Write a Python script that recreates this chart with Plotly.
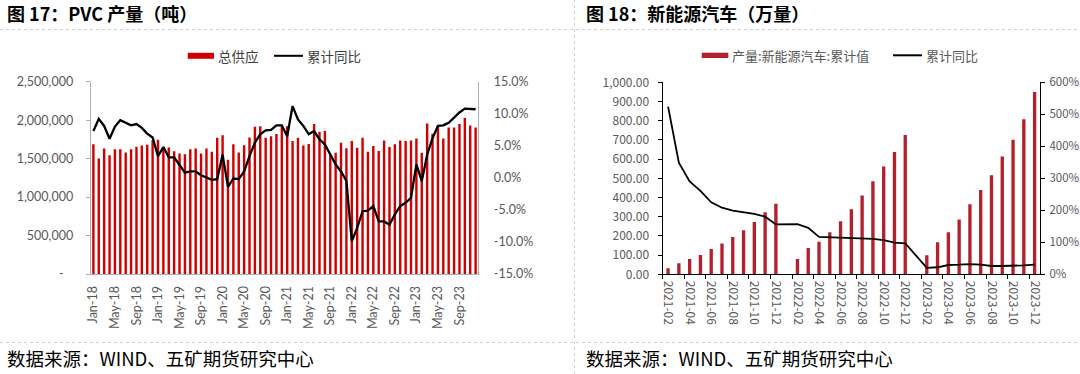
import plotly.graph_objects as go

# ---------------- Data: left chart (PVC production, tonnes) ----------------
pvc_months = [f"{m}-{y}" for y in range(18, 24) for m in
              ["Jan", "Feb", "Mar", "Apr", "May", "Jun", "Jul", "Aug", "Sep", "Oct", "Nov", "Dec"]]
pvc_supply_k = [
    1688, 1502, 1632, 1545, 1623, 1623, 1580, 1623, 1653, 1671, 1680, 1740,
    1745, 1645, 1645, 1597, 1567, 1558, 1623, 1632, 1567, 1632, 1589, 1770,
    1805, 1485, 1688, 1580, 1675, 1775, 1913, 1922, 1770, 1790, 1820, 1910,
    1920, 1730, 1770, 1670, 1690, 1950, 1850, 1860, 1547, 1577, 1706, 1634,
    1728, 1642, 1770, 1590, 1663, 1600, 1737, 1650, 1686, 1737, 1728, 1737,
    1763, 1577, 1958, 1823, 1927, 1763, 1906, 1906, 1949, 2027, 1930, 1905,
]
pvc_yoy_pct = [
    7.3, 9.2, 8.1, 6.1, 8.0, 9.0, 8.6, 8.2, 8.4, 7.8, 6.9, 6.3,
    3.4, 4.8, 3.2, 3.2, 2.0, 0.8, 1.0, 1.0, 0.4, 0.1, -0.3, -0.2,
    3.6, -1.4, -0.1, -0.2, 1.0, 3.4, 5.5, 6.8, 7.4, 7.5, 8.2, 8.2,
    6.5, 11.2, 9.1, 8.1, 6.8, 7.3, 6.0, 5.2, 3.6, 2.1, 1.0, -0.5,
    -9.9, -7.8, -5.2, -5.1, -4.4, -6.8, -6.8, -7.3, -5.7, -4.4, -3.9, -3.1,
    2.1, -0.5, 3.6, 6.2, 8.1, 8.2, 8.6, 9.4, 10.2, 10.8, 10.8, 10.7,
]
pvc_tick_labels = pvc_months[::4]
pvc_left_ticks = [0, 500000, 1000000, 1500000, 2000000, 2500000]
pvc_left_ticktext = ["-\u00a0\u00a0\u00a0", "500,000", "1,000,000", "1,500,000", "2,000,000", "2,500,000"]
pvc_right_ticks = [-0.15, -0.10, -0.05, 0.0, 0.05, 0.10, 0.15]
pvc_right_ticktext = ["-15.0%", "-10.0%", "-5.0%", "0.0%", "5.0%", "10.0%", "15.0%"]

# ---------------- Data: right chart (NEV production, 10k units) ----------------
nev_months = [f"{y}-{m:02d}" for y in (2021, 2022, 2023) for m in range(1, 13)][1:]
nev_cum = [
    31, 57, 80, 100, 132, 160, 194, 229, 273, 323, 368,
    None, 80, 137, 170, 219, 276, 339, 411, 484, 562, 637, 726,
    None, 99, 167, 219, 286, 365, 439, 516, 613, 701, 807, 950,
]
nev_yoy_pct = [
    524, 349, 290, 261, 225, 208, 199, 193, 189, 180, 156,
    None, 157, 145, 117, 116, 116, 115, 112, 111, 107, 99, 97,
    None, 20, 22, 29, 30, 32, 30, 26, 26, 26, 28, 30,
]
nev_tick_labels = nev_months[::2]

# ---------------- helpers ----------------
W, H = 1080, 374
def px(x):
    return x / W
def py(y):
    return 1 - y / H

CJK = "Noto Sans CJK SC"
LAT = "Lato"

fig = go.Figure()

# Left chart traces
fig.add_trace(go.Bar(
    x=pvc_months, y=[v * 1000 for v in pvc_supply_k], name="总供应",
    marker=dict(color="#D10000", line=dict(width=0)),
    xaxis="x", yaxis="y", showlegend=False,
))
fig.add_trace(go.Scatter(
    x=pvc_months, y=[v / 100 for v in pvc_yoy_pct], name="累计同比", mode="lines",
    line=dict(color="#000000", width=2.3),
    xaxis="x", yaxis="y2", showlegend=False,
))

# Right chart traces
fig.add_trace(go.Bar(
    x=nev_months, y=nev_cum, name="产量:新能源汽车:累计值",
    marker=dict(color="#B3222C", line=dict(width=0)),
    xaxis="x2", yaxis="y3", showlegend=False, width=0.31,
))
fig.add_trace(go.Scatter(
    x=nev_months, y=[None if v is None else v / 100 for v in nev_yoy_pct], name="累计同比",
    mode="lines", connectgaps=True,
    line=dict(color="#000000", width=1.8),
    xaxis="x2", yaxis="y4", showlegend=False,
))

GRAY_AX = "#B0B0B0"
TICK_COL = "#595959"

fig.update_layout(
    width=W, height=H,
    margin=dict(l=0, r=0, t=0, b=0),
    paper_bgcolor="white", plot_bgcolor="white",
    bargap=0.55,
    barmode="overlay",
    xaxis=dict(
        domain=[px(90.7), px(478.3)], anchor="y", type="category",
        categoryorder="array", categoryarray=pvc_months,
        range=[-0.5, len(pvc_months) - 0.5],
        tickmode="array", tickvals=pvc_tick_labels, ticktext=pvc_tick_labels,
        tickangle=-90, ticks="", showgrid=False, zeroline=False,
        showline=True, linecolor=GRAY_AX, linewidth=1,
        tickfont=dict(family=LAT, size=12.5, color=TICK_COL),
        ticklabelstandoff=6, automargin=False,
    ),
    yaxis=dict(
        domain=[py(274), py(81.7)], anchor="x",
        range=[0, 2500000], tickmode="array", tickvals=pvc_left_ticks, ticktext=pvc_left_ticktext,
        ticks="outside", ticklen=4, tickcolor=GRAY_AX,
        showgrid=False, zeroline=False, showline=True, linecolor=GRAY_AX, linewidth=1,
        tickfont=dict(family=LAT, size=12.5, color=TICK_COL),
        ticklabelstandoff=10, automargin=False,
    ),
    yaxis2=dict(
        overlaying="y", side="right", anchor="x",
        range=[-0.15, 0.15], tickmode="array", tickvals=pvc_right_ticks, ticktext=pvc_right_ticktext,
        ticks="", showgrid=False, zeroline=False, showline=True, linecolor=GRAY_AX, linewidth=1,
        tickfont=dict(family=LAT, size=12.5, color=TICK_COL),
        ticklabelstandoff=12, automargin=False,
    ),
    xaxis2=dict(
        domain=[px(662.7), px(1040)], anchor="y3", type="category",
        categoryorder="array", categoryarray=nev_months,
        range=[-0.5, len(nev_months) - 0.5],
        tickmode="array", tickvals=nev_tick_labels, ticktext=nev_tick_labels,
        tickson="boundaries",
        tickangle=90, ticks="outside", ticklen=4, tickcolor="#000000",
        showgrid=False, zeroline=False, showline=True, linecolor="#000000", linewidth=1.2,
        tickfont=dict(family=CJK, size=12, color=TICK_COL),
        ticklabelstandoff=3, automargin=False,
    ),
    yaxis3=dict(
        domain=[py(274.3), py(82.3)], anchor="x2",
        range=[0, 1000], dtick=100, tickformat=",.2f",
        ticks="outside", ticklen=4, tickcolor="#000000",
        showgrid=False, zeroline=False, showline=True, linecolor="#000000", linewidth=1.2,
        tickfont=dict(family=CJK, size=12, color=TICK_COL),
        ticklabelstandoff=6, automargin=False,
    ),
    yaxis4=dict(
        overlaying="y3", side="right", anchor="x2",
        range=[0, 6], dtick=1, tickformat=".0%",
        ticks="outside", ticklen=4, tickcolor="#000000",
        showgrid=False, zeroline=False, showline=True, linecolor="#000000", linewidth=1.2,
        tickfont=dict(family=CJK, size=11.5, color=TICK_COL),
        ticklabelstandoff=2, automargin=False,
    ),
)

shapes = []
annotations = []

# Dotted separators
DOT = dict(color="#CFCFCF", width=1, dash="dot")
for yy in (29.5, 342.5):
    shapes.append(dict(type="line", xref="paper", yref="paper",
                       x0=0, x1=1, y0=py(yy), y1=py(yy), line=DOT))
shapes.append(dict(type="line", xref="paper", yref="paper",
                   x0=px(574.5), x1=px(574.5), y0=0, y1=1, line=DOT))

# Titles and footnotes
for x0, t in ((5, "图 17：PVC 产量（吨）"), (584, "图 18：新能源汽车（万量）")):
    annotations.append(dict(xref="paper", yref="paper", x=px(x0), y=py(13),
                            xanchor="left", yanchor="middle", showarrow=False,
                            text=f"<b>{t}</b>",
                            font=dict(family=CJK, size=18, color="#000000")))
    annotations.append(dict(xref="paper", yref="paper", x=px(x0), y=py(358),
                            xanchor="left", yanchor="middle", showarrow=False,
                            text="数据来源：WIND、五矿期货研究中心",
                            font=dict(family=CJK, size=18.5, color="#000000")))

# Legend, left chart
shapes.append(dict(type="rect", xref="paper", yref="paper",
                   x0=px(187.7), x1=px(214), y0=py(58.8), y1=py(52.8),
                   fillcolor="#D10000", line=dict(width=0)))
shapes.append(dict(type="line", xref="paper", yref="paper",
                   x0=px(274), x1=px(303), y0=py(55.8), y1=py(55.8),
                   line=dict(color="#000000", width=2)))
annotations.append(dict(xref="paper", yref="paper", x=px(216), y=py(55.8),
                        xanchor="left", yanchor="middle", showarrow=False, text="总供应",
                        font=dict(family=CJK, size=13.5, color="#404040")))
annotations.append(dict(xref="paper", yref="paper", x=px(305), y=py(55.8),
                        xanchor="left", yanchor="middle", showarrow=False, text="累计同比",
                        font=dict(family=CJK, size=13.5, color="#404040")))

# Legend, right chart
shapes.append(dict(type="rect", xref="paper", yref="paper",
                   x0=px(701.7), x1=px(728.3), y0=py(58), y1=py(52.7),
                   fillcolor="#B3222C", line=dict(width=0)))
shapes.append(dict(type="line", xref="paper", yref="paper",
                   x0=px(893), x1=px(922), y0=py(55.3), y1=py(55.3),
                   line=dict(color="#000000", width=2)))
annotations.append(dict(xref="paper", yref="paper", x=px(730), y=py(55.3),
                        xanchor="left", yanchor="middle", showarrow=False, text="产量:新能源汽车:累计值",
                        font=dict(family=CJK, size=13, color="#595959")))
annotations.append(dict(xref="paper", yref="paper", x=px(924), y=py(55.3),
                        xanchor="left", yanchor="middle", showarrow=False, text="累计同比",
                        font=dict(family=CJK, size=13, color="#595959")))

fig.update_layout(shapes=shapes, annotations=annotations)

fig.write_html(
    "out.html",
    config={"displayModeBar": False},
    post_script="document.body.style.margin='0';document.body.style.padding='0';"
                "document.body.style.overflow='hidden';",
)
